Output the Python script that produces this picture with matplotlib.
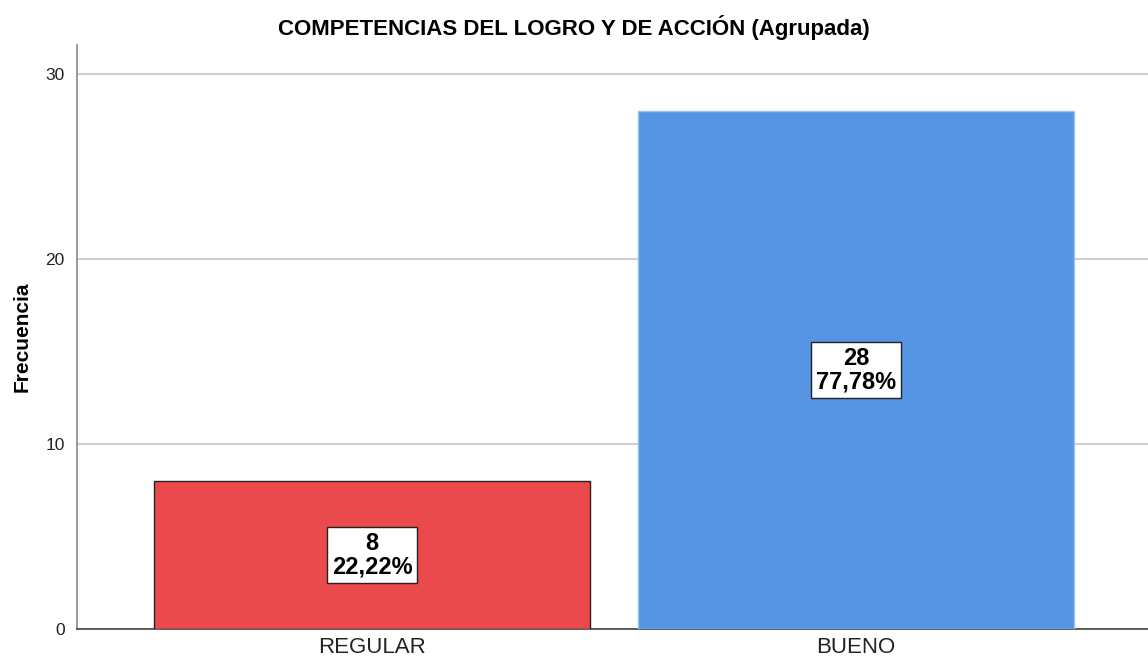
import matplotlib
matplotlib.use('Agg')
import matplotlib.pyplot as plt

plt.rcParams['font.family'] = ['Liberation Sans', 'DejaVu Sans']

categorias = ['REGULAR', 'BUENO']
frecuencias = [8, 28]
porcentajes = ['22,22%', '77,78%']
colores = ['#EB4A4C', '#5595E4']
bordes = ['#222222', '#9CC3F0']

fig = plt.figure(figsize=(11.48, 6.64), dpi=100)
ax = fig.add_axes([0.0671, 0.0527, 0.9329, 0.8795])

pos = list(range(len(categorias)))
ax.bar(pos, frecuencias, width=0.9, color=colores, edgecolor=bordes, linewidth=1.0, zorder=3)

for x, f, p in zip(pos, frecuencias, porcentajes):
    ax.text(x, f / 2, f'{f}\n{p}', ha='center', va='center', fontsize=17,
            fontweight='bold', linespacing=1.05, zorder=4,
            bbox=dict(boxstyle='square,pad=0.2', facecolor='white', edgecolor='#222222', linewidth=1.0))

ax.set_xlim(-0.6095, 1.603)
ax.set_ylim(0, 31.57)
ax.set_yticks([0, 10, 20, 30])
ax.set_xticks(pos)
ax.set_xticklabels(categorias, fontsize=16, color='#222222')
ax.tick_params(axis='y', length=0, labelsize=12.5, pad=9, labelcolor='#222222')
ax.tick_params(axis='x', length=0, pad=6)
ax.yaxis.grid(True, color='#D0D0D0', linewidth=1.5, zorder=0)
ax.set_axisbelow(True)

for s in ['top', 'right']:
    ax.spines[s].set_visible(False)
ax.spines['left'].set_color('#888888')
ax.spines['left'].set_linewidth(1.2)
ax.spines['bottom'].set_color('#444444')
ax.spines['bottom'].set_linewidth(1.2)

ax.set_ylabel('Frecuencia', fontsize=15, fontweight='bold', labelpad=10)
fig.text(0.50, 0.958, 'COMPETENCIAS DEL LOGRO Y DE ACCIÓN (Agrupada)', ha='center', va='center',
         fontsize=16, fontweight='bold')

fig.savefig('out.png', dpi=100)
